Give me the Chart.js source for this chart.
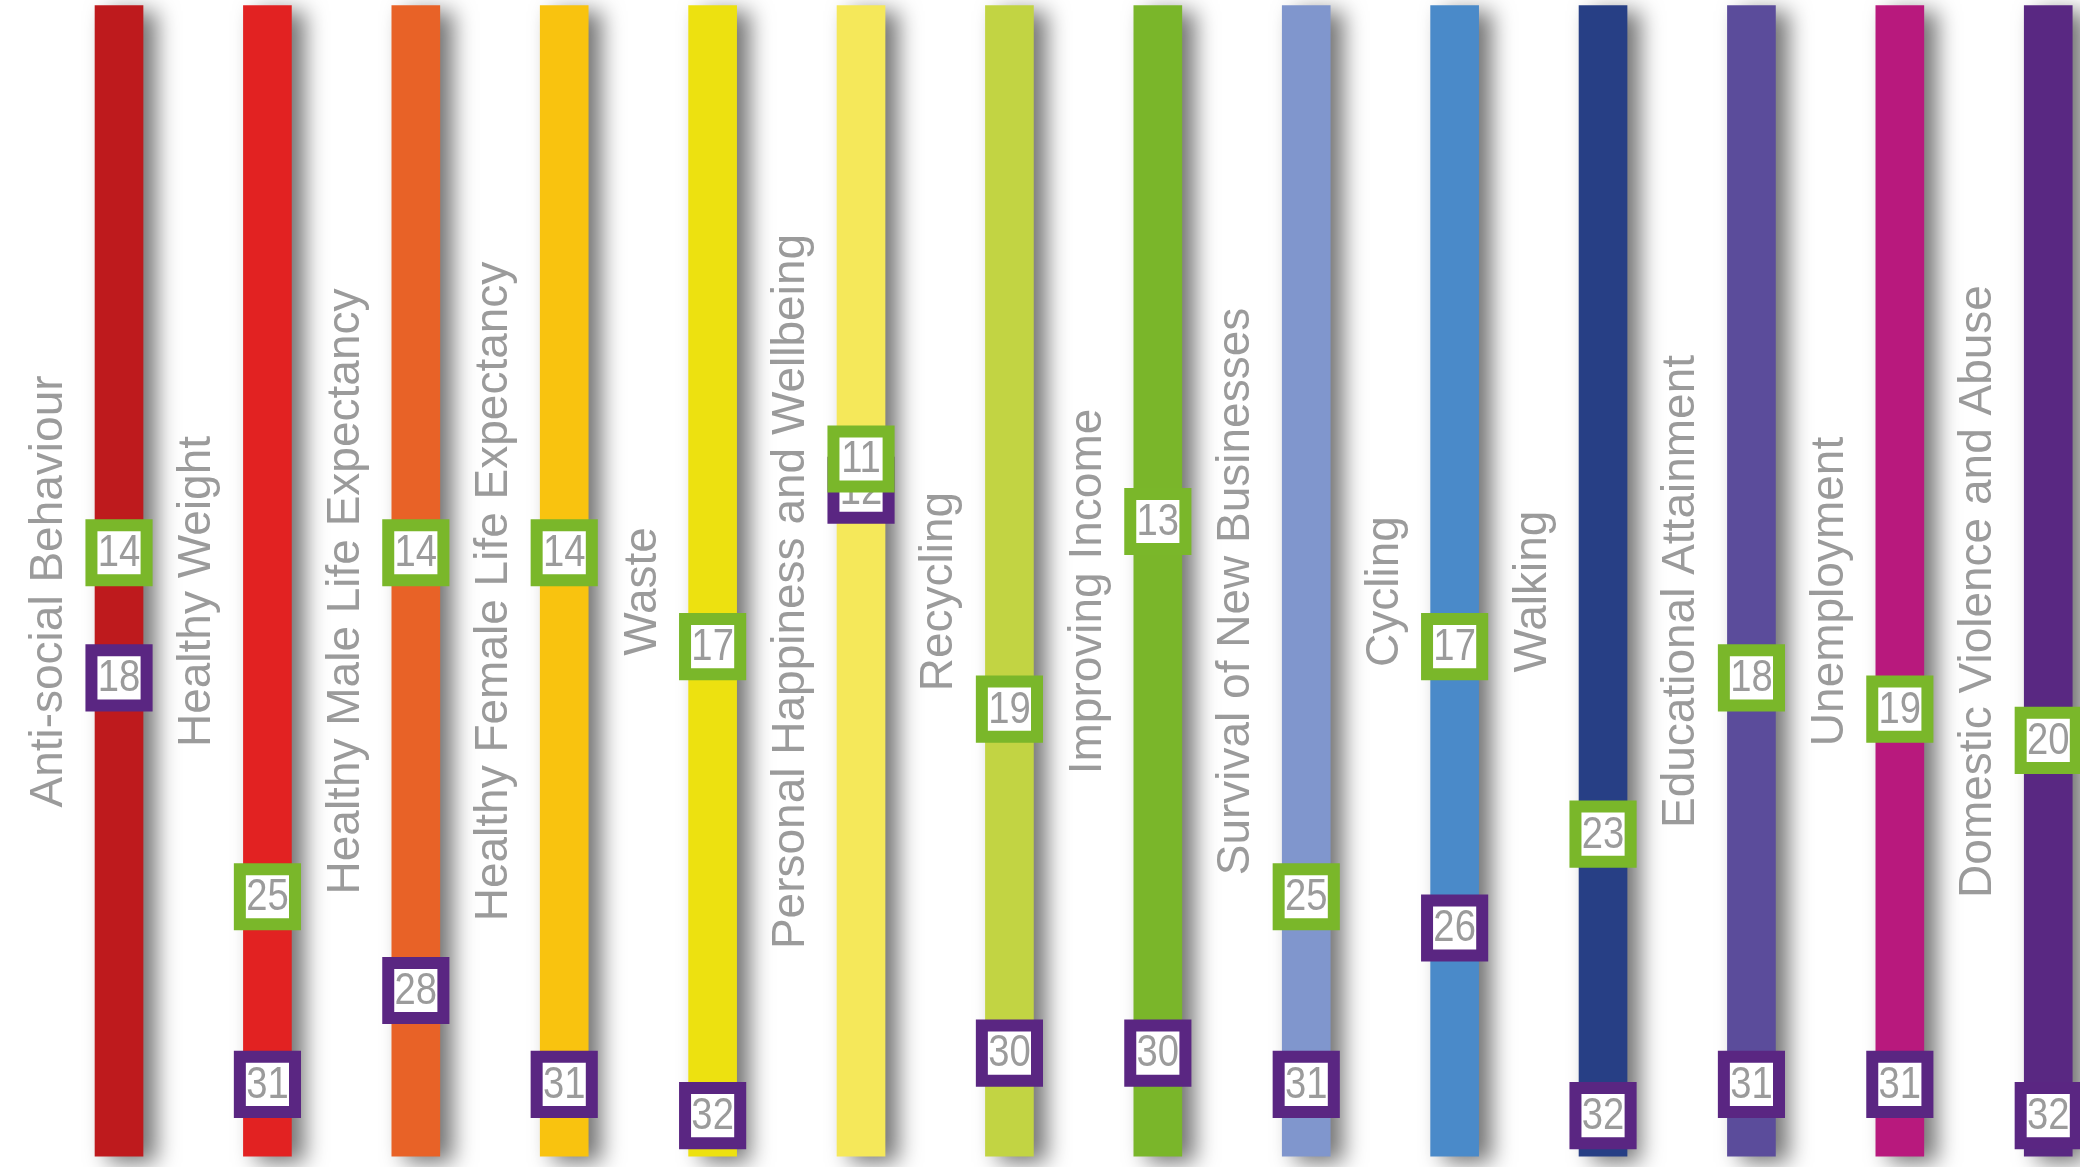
<!DOCTYPE html>
<html>
<head>
<meta charset="utf-8">
<title>Indicator rankings</title>
<script src="https://cdn.jsdelivr.net/npm/chart.js"></script>
<style>
    html, body { margin: 0; padding: 0; background: #ffffff; overflow: hidden; }
    #rankChart { display: block; }
</style>
</head>
<body>
<canvas id="rankChart" width="2080" height="1167"></canvas>
<script>
// indicators, left to right
var categories = [
    'Anti-social Behaviour', 'Healthy Weight', 'Healthy Male Life Expectancy',
    'Healthy Female Life Expectancy', 'Waste', 'Personal Happiness and Wellbeing',
    'Recycling', 'Improving Income', 'Survival of New Businesses', 'Cycling',
    'Walking', 'Educational Attainment', 'Unemployment', 'Domestic Violence and Abuse'
];

// ranks shown in the green and the purple boxes
var greenRanks = [14, 25, 14, 14, 17, 11, 19, 13, 25, 17, 23, 18, 19, 20];
var purpleRanks = [18, 31, 28, 31, 32, 12, 30, 30, 31, 26, 32, 31, 31, 32];

// every coloured column runs over the same rank range
var trackRange = [-3.5, 33.3];

var barColors = [
    '#be1a1d', '#e22222', '#e86227', '#f9c30f', '#ede110', '#f5e85a', '#c2d443',
    '#7ab62a', '#8096cd', '#4a8ac9', '#273f85', '#5b4c9b', '#b8197d', '#592882'
];

var greenColor = '#7ab72a';
var purpleColor = '#5a2682';
var textGrey = '#9b9b9b';

function toPoints(values) {
    return values.map(function (v, i) { return { x: i, y: v }; });
}

// soft grey shadow to the right of every column
var columnShadow = {
    id: 'columnShadow',
    beforeDatasetDraw: function (chart, args) {
        if (args.meta.type !== 'bar') return;
        var ctx = chart.ctx;
        ctx.save();
        ctx.shadowColor = 'rgba(0, 0, 0, 0.55)';
        ctx.shadowBlur = 22;
        ctx.shadowOffsetX = 13;
        ctx.shadowOffsetY = 6;
    },
    afterDatasetDraw: function (chart, args) {
        if (args.meta.type !== 'bar') return;
        chart.ctx.restore();
    }
};

// rotated category names, left of each column
var categoryLabels = {
    id: 'categoryLabels',
    beforeDatasetsDraw: function (chart) {
        var ctx = chart.ctx;
        var xScale = chart.scales.x;
        var midY = (chart.chartArea.top + chart.chartArea.bottom) / 2 + 8;
        ctx.save();
        ctx.font = '46px "Liberation Sans", Arial, sans-serif';
        ctx.fillStyle = textGrey;
        ctx.textAlign = 'center';
        ctx.textBaseline = 'middle';
        categories.forEach(function (name, i) {
            var x = xScale.getPixelForValue(i - 0.47);
            ctx.save();
            ctx.translate(x, midY);
            ctx.rotate(-Math.PI / 2);
            ctx.fillText(name, 0, 0);
            ctx.restore();
        });
        ctx.restore();
    }
};

// the rank number inside each box, drawn right after its own boxes
var boxNumbers = {
    id: 'boxNumbers',
    afterDatasetDraw: function (chart, args) {
        if (args.meta.type !== 'scatter') return;
        var ctx = chart.ctx;
        var values = chart.data.datasets[args.index].data;
        ctx.save();
        ctx.font = '45px "Liberation Sans", Arial, sans-serif';
        ctx.fillStyle = textGrey;
        ctx.textAlign = 'center';
        ctx.textBaseline = 'middle';
        args.meta.data.forEach(function (pt, j) {
            ctx.save();
            ctx.translate(pt.x, pt.y + 1);
            ctx.scale(0.85, 1);
            ctx.fillText(String(values[j].y), 0, 0);
            ctx.restore();
        });
        ctx.restore();
    }
};

var boxStyle = {
    type: 'scatter',
    pointStyle: 'rect',
    pointRadius: 39,
    pointHoverRadius: 39,
    pointBorderWidth: 12,
    pointBackgroundColor: '#ffffff',
    clip: false
};

new Chart(document.getElementById('rankChart'), {
    type: 'bar',
    data: {
        datasets: [
            Object.assign({}, boxStyle, {
                label: 'Green',
                order: 1,
                data: toPoints(greenRanks),
                pointBorderColor: greenColor
            }),
            Object.assign({}, boxStyle, {
                label: 'Purple',
                order: 2,
                data: toPoints(purpleRanks),
                pointBorderColor: purpleColor
            }),
            {
                type: 'bar',
                label: 'Track',
                order: 3,
                data: categories.map(function (c, i) { return { x: i, y: trackRange }; }),
                backgroundColor: barColors,
                borderWidth: 0,
                barThickness: 48
            }
        ]
    },
    options: {
        responsive: false,
        animation: false,
        events: [],
        layout: { padding: 0, autoPadding: false },
        plugins: {
            legend: { display: false },
            tooltip: { enabled: false }
        },
        scales: {
            x: {
                type: 'linear',
                display: false,
                offset: false,
                min: -0.802,
                max: 13.214
            },
            y: {
                type: 'linear',
                display: false,
                reverse: true,
                min: -3.678,
                max: 33.643
            }
        }
    },
    plugins: [columnShadow, categoryLabels, boxNumbers]
});
</script>
</body>
</html>
